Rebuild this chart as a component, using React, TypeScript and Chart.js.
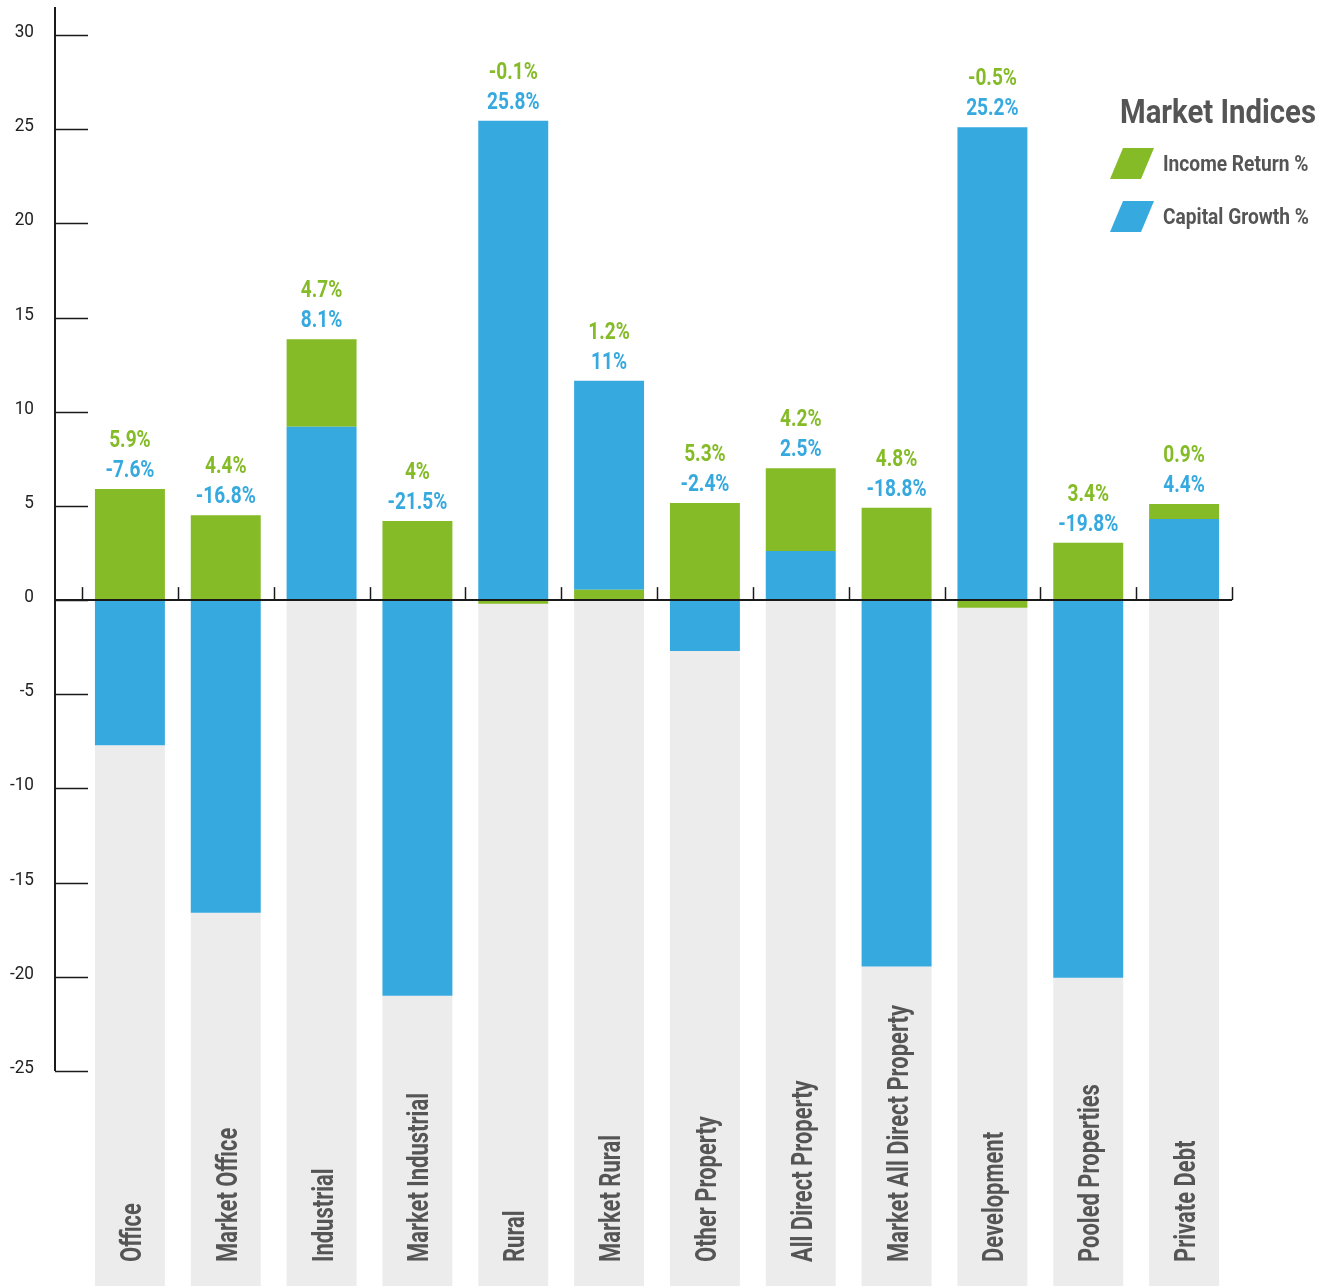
import { useEffect, useRef } from "react";
import { Chart, registerables } from "chart.js";

Chart.register(...registerables);

const categories = [
  "Office",
  "Market Office",
  "Industrial",
  "Market Industrial",
  "Rural",
  "Market Rural",
  "Other Property",
  "All Direct Property",
  "Market All Direct Property",
  "Development",
  "Pooled Properties",
  "Private Debt",
];

// bar heights as drawn in the picture
const incomeReturn = [5.9, 4.5, 4.65, 4.2, -0.2, 0.55, 5.15, 4.4, 4.9, -0.4, 3.05, 0.8];
const capitalGrowth = [-7.7, -16.6, 9.2, -21.0, 25.45, 11.1, -2.7, 2.6, -19.45, 25.1, -20.05, 4.3];
// true where the capital-growth segment sits on top of the income segment
const capitalAboveIncome = [false, false, false, false, false, true, false, false, false, false, false, false];

// printed labels
const incomeLabels = ["5.9%", "4.4%", "4.7%", "4%", "-0.1%", "1.2%", "5.3%", "4.2%", "4.8%", "-0.5%", "3.4%", "0.9%"];
const capitalLabels = ["-7.6%", "-16.8%", "8.1%", "-21.5%", "25.8%", "11%", "-2.4%", "2.5%", "-18.8%", "25.2%", "-19.8%", "4.4%"];

const yTicks = [30, 25, 20, 15, 10, 5, 0, -5, -10, -15, -20, -25];
const backgroundDepth = -45;

const legendTitle = "Market Indices";
const legendItems = ["Income Return %", "Capital Growth %"];

const GREEN = "#84bb27";
const BLUE = "#36a9df";
const GREY_BG = "#ececec";
const TEXT_GREY = "#555555";
const FONT = 'Roboto, "Liberation Sans", "Noto Sans", sans-serif';

// condensed text: horizontal squeeze calibrated so a sample string reaches a width
function squeeze(ctx: CanvasRenderingContext2D, font: string, sample: string, width: number) {
  ctx.font = font;
  const w = ctx.measureText(sample).width;
  return w > 0 ? width / w : 1;
}

function drawText(
  ctx: CanvasRenderingContext2D,
  text: string,
  x: number,
  y: number,
  sx: number,
  align: CanvasTextAlign,
  rotate = 0
) {
  ctx.save();
  ctx.translate(x, y);
  if (rotate) ctx.rotate(rotate);
  ctx.scale(sx, 1);
  ctx.textAlign = align;
  ctx.textBaseline = "alphabetic";
  ctx.fillText(text, 0, 0);
  ctx.restore();
}

const overlayPlugin = {
  id: "overlay",
  afterDatasetsDraw(chart: any) {
    const { ctx, scales } = chart;
    const x = scales.x;
    const y = scales.y;
    const n = categories.length;
    const axisX = x.left - 27;
    const y0 = y.getPixelForValue(0);
    ctx.save();

    // y axis line and ticks
    ctx.strokeStyle = "#1a1a1a";
    ctx.lineWidth = 2;
    ctx.beginPath();
    ctx.moveTo(axisX, y.top - 28);
    ctx.lineTo(axisX, y.getPixelForValue(-25));
    ctx.stroke();
    ctx.lineWidth = 1.5;
    yTicks.forEach((v) => {
      const py = Math.round(y.getPixelForValue(v)) + 0.5;
      ctx.beginPath();
      ctx.moveTo(axisX, py);
      ctx.lineTo(axisX + 33, py);
      ctx.stroke();
    });

    // y tick labels
    const tickFont = `19px ${FONT}`;
    const sxTick = squeeze(ctx, tickFont, "-25", 24);
    ctx.font = tickFont;
    ctx.fillStyle = "#222222";
    yTicks.forEach((v) => {
      const py = y.getPixelForValue(v);
      drawText(ctx, String(v), 34, py + 2, sxTick, "right");
    });

    // zero line with category boundary ticks
    ctx.lineWidth = 2;
    ctx.beginPath();
    ctx.moveTo(axisX, y0);
    ctx.lineTo(x.right, y0);
    ctx.stroke();
    const step = x.width / n;
    ctx.lineWidth = 1.5;
    for (let i = 0; i <= n; i++) {
      const bx = Math.round(x.left + i * step) + 0.5;
      ctx.beginPath();
      ctx.moveTo(bx, y0 - 13);
      ctx.lineTo(bx, y0);
      ctx.stroke();
    }

    // value labels above bars
    const valFont = `bold 23px ${FONT}`;
    const sxVal = squeeze(ctx, valFont, "-16.8%", 60);
    ctx.font = valFont;
    categories.forEach((_, i) => {
      const pos = Math.max(incomeReturn[i], 0) + Math.max(capitalGrowth[i], 0);
      const top = y.getPixelForValue(pos);
      const cx = x.getPixelForValue(i);
      ctx.fillStyle = GREEN;
      drawText(ctx, incomeLabels[i], cx, top - 42, sxVal, "center");
      ctx.fillStyle = BLUE;
      drawText(ctx, capitalLabels[i], cx, top - 12, sxVal, "center");
    });

    // category labels, vertical at the bottom
    const catFont = `bold 30px ${FONT}`;
    const sxCat = squeeze(ctx, catFont, "Market All Direct Property", 257);
    ctx.font = catFont;
    ctx.fillStyle = TEXT_GREY;
    categories.forEach((c, i) => {
      const cx = x.getPixelForValue(i);
      drawText(ctx, c, cx + 11, 1262, sxCat, "left", -Math.PI / 2);
    });

    // legend
    ctx.fillStyle = TEXT_GREY;
    const titleFont = `bold 33px ${FONT}`;
    const sxTitle = squeeze(ctx, titleFont, legendTitle, 196);
    ctx.font = titleFont;
    drawText(ctx, legendTitle, 1120, 123, sxTitle, "left");
    const itemFont = `bold 22px ${FONT}`;
    const sxItem = squeeze(ctx, itemFont, "Capital Growth %", 146);
    const colors = [GREEN, BLUE];
    legendItems.forEach((label, i) => {
      const cy = 163 + i * 53;
      ctx.fillStyle = colors[i];
      ctx.beginPath();
      ctx.moveTo(1110, cy + 16);
      ctx.lineTo(1141, cy + 16);
      ctx.lineTo(1154, cy - 15);
      ctx.lineTo(1123, cy - 15);
      ctx.closePath();
      ctx.fill();
      ctx.fillStyle = TEXT_GREY;
      ctx.font = itemFont;
      drawText(ctx, label, 1163, cy + 8, sxItem, "left");
    });

    ctx.restore();
  },
};

export default function App() {
  const canvasRef = useRef<HTMLCanvasElement | null>(null);

  useEffect(() => {
    document.body.style.margin = "0";
    const canvas = canvasRef.current;
    if (!canvas) return;

    const capitalBelow = capitalGrowth.map((v, i) => (capitalAboveIncome[i] ? null : v));
    const capitalAbove = capitalGrowth.map((v, i) => (capitalAboveIncome[i] ? v : null));

    const chart = new Chart(canvas, {
      type: "bar",
      data: {
        labels: categories,
        datasets: [
          { label: "Capital Growth %", data: capitalBelow, backgroundColor: BLUE },
          { label: "Income Return %", data: incomeReturn, backgroundColor: GREEN },
          { label: "Capital Growth % (top)", data: capitalAbove, backgroundColor: BLUE },
          {
            label: "background",
            data: categories.map(() => backgroundDepth),
            backgroundColor: GREY_BG,
            clip: false as any,
          },
        ] as any,
      },
      options: {
        animation: false,
        responsive: true,
        maintainAspectRatio: false,
        datasets: { bar: { categoryPercentage: 1, barPercentage: 0.73, borderWidth: 0 } },
        layout: { padding: { top: 35, right: 101, bottom: 215, left: 0 } },
        plugins: { legend: { display: false }, tooltip: { enabled: false } },
        scales: {
          x: {
            stacked: true,
            display: true,
            grid: { display: false, drawTicks: false },
            border: { display: false },
            ticks: { display: false },
          },
          y: {
            stacked: true,
            min: -25,
            max: 30,
            grid: { display: false, drawTicks: false },
            border: { display: false },
            afterFit: (scale: any) => {
              scale.width = 82;
            },
            ticks: { display: false, stepSize: 5 },
          },
        },
      },
      plugins: [overlayPlugin],
    });

    return () => chart.destroy();
  }, []);

  return (
    <div style={{ width: 1333, height: 1286, position: "relative" }}>
      <canvas ref={canvasRef} style={{ display: "block" }} />
    </div>
  );
}
